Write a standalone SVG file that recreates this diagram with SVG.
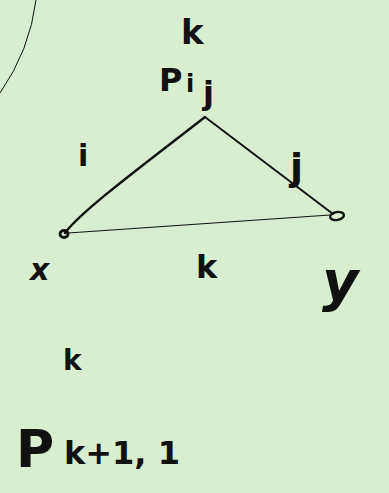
<svg xmlns="http://www.w3.org/2000/svg" width="389" height="493" viewBox="0 0 389 493">
<style>
.ink{fill:none;stroke:#111;stroke-linecap:round;stroke-linejoin:round}
.t{font-family:"DejaVu Sans",sans-serif;fill:#111;font-weight:bold}
</style>
<rect width="389" height="493" fill="#d9eece"/>
<path class="ink" d="M36,0 Q30,50 0,93" stroke-width="1"/>
<g id="connectors">
<path class="ink" d="M65,233 C82,210 150,160 205,117" stroke-width="2.4"/>
<path class="ink" d="M205,117 L333,214" stroke-width="1.9"/>
<path class="ink" d="M68,233 L330,215" stroke-width="1.1"/>
</g>
<g id="node-x">
<ellipse cx="64" cy="234" rx="4" ry="3.5" class="ink" stroke-width="2.8"/>
<text class="t" x="30" y="280" font-size="30" font-style="italic" font-weight="normal">x</text>
</g>
<g id="node-y">
<ellipse cx="337" cy="216" rx="7" ry="4" class="ink" stroke-width="2.4" transform="rotate(-10 337 216)"/>
<text class="t" x="322" y="300" font-size="56" font-style="italic" font-weight="normal">y</text>
</g>
<g id="node-top">
<text class="t" x="181" y="44" font-size="34">k</text>
<text class="t" x="159" y="91" font-size="32" font-weight="normal">P</text>
<text class="t" x="186" y="92" font-size="24">i</text>
<text class="t" x="203" y="104" font-size="32">j</text>
</g>
<g id="labels">
<text class="t" x="78" y="166" font-size="30">i</text>
<text class="t" x="290" y="180" font-size="38" font-weight="normal">j</text>
<text class="t" x="196" y="278" font-size="32" font-weight="normal">k</text>
<text class="t" x="63" y="370" font-size="28">k</text>
<text class="t" x="16" y="467" font-size="52" font-weight="normal">P</text>
<text class="t" x="64" y="464" font-size="32" font-weight="normal">k+1, 1</text>
</g>
</svg>
